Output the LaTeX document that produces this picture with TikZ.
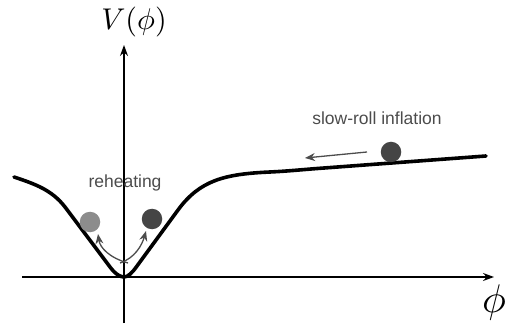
\documentclass[tikz,border=0pt]{standalone}
\usepackage{fontspec}
\setsansfont{Liberation Sans}
\usetikzlibrary{arrows.meta}
\begin{document}
\begin{tikzpicture}[x=1pt,y=-1pt,
  axis/.style={line width=1.2pt,-{Stealth[length=11pt,width=8pt]}},
  pot/.style={line width=3.6pt,line cap=round,line join=round},
  ball/.style={circle,minimum size=20.5pt,inner sep=0pt},
  garrow/.style={line width=1.3pt,draw=black!70,-{Stealth[length=10pt,width=8pt]}},
  lbl/.style={font=\sffamily\fontsize{17.5}{20}\selectfont,text=black!70,inner sep=0pt}]
\useasboundingbox (0,0) rectangle (510,328);
% axes
\coordinate (xs) at (22,277);
\coordinate (xe) at (494,277);
\coordinate (ys) at (124,323);
\coordinate (ye) at (124,45);
\draw[axis] (xs) -- (xe);
\draw[axis] (ys) -- (ye);
\node[anchor=base,inner sep=0pt] (vl) at (134,29.5) {\scalebox{3}{$V(\phi)$}};
\node[anchor=base,inner sep=0pt] (pl) at (494,312) {\scalebox{4}{$\phi$}};
% potential
\draw[pot] (14,177) .. controls (35,184) and (52,190) .. (65,207)
  -- (110,267) .. controls (116,275) and (121,277) .. (124,277)
  .. controls (128,277) and (132,273) .. (137,266)
  -- (178,210) .. controls (200,180) and (225,174) .. (270,172)
  .. controls (290,171) and (300,169.8) .. (320,168.3) -- (486,156);
% balls
\node[ball,fill=black!45] (b1) at (90,222) {};
\node[ball,fill=black!73] (b2) at (152,219) {};
\node[ball,fill=black!73] (b3) at (391,152) {};
% arrows
\coordinate (r1) at (128,263);
\coordinate (r2) at (120,263);
\coordinate (t1) at (98,234);
\coordinate (t2) at (146,231);
\draw[garrow] (r1) .. controls (110,258) and (100,248) .. (t1);
\draw[garrow] (r2) .. controls (135,258) and (142,245) .. (t2);
\coordinate (s1) at (367,152);
\coordinate (s2) at (305,158);
\draw[garrow] (s1) -- (s2);
% labels
\node[lbl] (reh) at (125,183) {reheating};
\node[lbl] (sri) at (377,118) {slow-roll inflation};
\end{tikzpicture}
\end{document}
